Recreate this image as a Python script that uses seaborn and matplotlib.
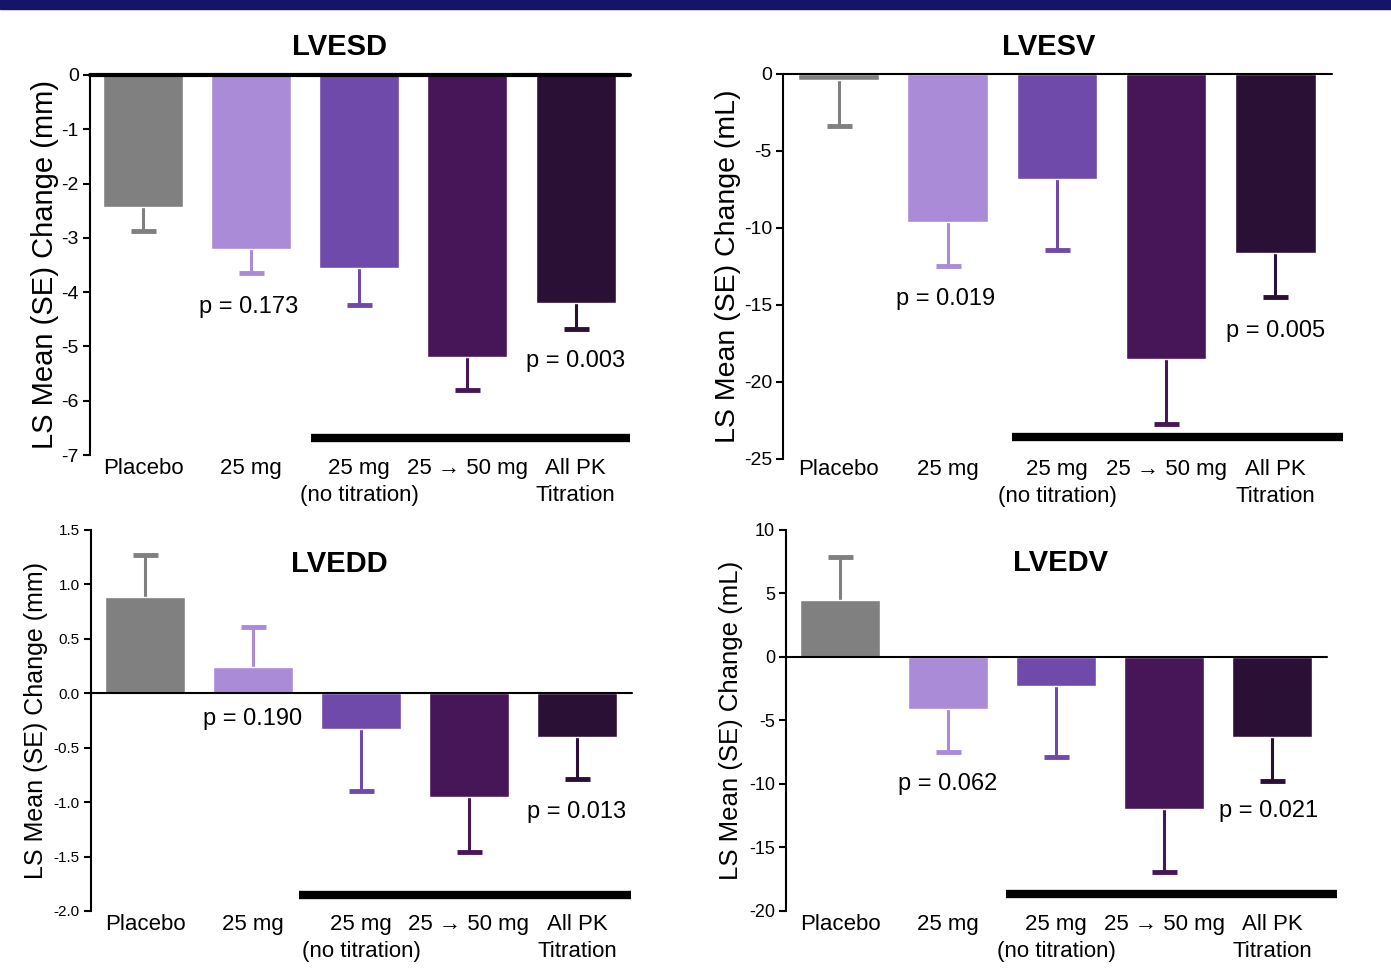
import matplotlib
matplotlib.use("Agg")
import matplotlib.pyplot as plt
import seaborn as sns
from matplotlib.patches import Rectangle

# data
groups = ["Placebo", "25 mg", "25 mg\n(no titration)", "25 \u2192 50 mg", "All PK\nTitration"]
colors = ["#808080", "#a98bd8", "#6f4aab", "#471659", "#2b1035"]

lvesd_mean = [-2.43, -3.20, -3.55, -5.19, -4.20]
lvesd_se = [0.44, 0.45, 0.69, 0.61, 0.48]
lvesd_p = ["p = 0.173", "p = 0.003"]

lvesv_mean = [-0.4, -9.6, -6.8, -18.5, -11.6]
lvesv_se = [3.0, 2.9, 4.6, 4.2, 2.9]
lvesv_p = ["p = 0.019", "p = 0.005"]

lvedd_mean = [0.88, 0.24, -0.33, -0.95, -0.40]
lvedd_se = [0.39, 0.37, 0.57, 0.51, 0.39]
lvedd_p = ["p = 0.190", "p = 0.013"]

lvedv_mean = [4.5, -4.1, -2.3, -12.0, -6.3]
lvedv_se = [3.4, 3.4, 5.6, 4.9, 3.5]
lvedv_p = ["p = 0.062", "p = 0.021"]

sns.set_style("white")
plain = ["Liberation Sans", "DejaVu Sans"]
plt.rcParams["font.family"] = plain
plt.rcParams["text.color"] = "black"
plt.rcParams["xtick.color"] = "black"
plt.rcParams["ytick.color"] = "black"
plt.rcParams["axes.labelcolor"] = "black"

fig = plt.figure(figsize=(13.91, 9.71), dpi=100)
fig.patches.append(Rectangle((0, 0.991), 1, 0.009, transform=fig.transFigure,
                             color="#14146b", zorder=10))

panels = [
    dict(title="LVESD", mean=lvesd_mean, se=lvesd_se, p=lvesd_p,
         rect=[0.0647, 0.5314, 0.388, 0.3914], ylim=(-7, 0), ticks=range(-7, 1),
         fmt="{:g}", xlim=(-0.49, 4.5), ylabel="LS Mean (SE) Change (mm)",
         ylsize=21, lpad=2, tsize=14, xpad=2, title_xy=(1.82, 0.52),
         p_pos=[(0.98, -4.27), (4.0, -5.27)], zlw=3, grp=(1.55, 4.5, -6.68)),
    dict(title="LVESV", mean=lvesv_mean, se=lvesv_se, p=lvesv_p,
         rect=[0.5629, 0.5273, 0.3947, 0.3965], ylim=(-25, 0), ticks=range(-25, 1, 5),
         fmt="{:g}", xlim=(-0.51, 4.52), ylabel="LS Mean (SE) Change (mL)",
         ylsize=20.5, lpad=2, tsize=14, xpad=0, title_xy=(1.92, 1.75),
         p_pos=[(0.98, -14.6), (4.0, -16.7)], zlw=1.5, grp=(1.59, 4.62, -23.6)),
    dict(title="LVEDD", mean=lvedd_mean, se=lvedd_se, p=lvedd_p,
         rect=[0.0654, 0.0618, 0.389, 0.3924], ylim=(-2.0, 1.5),
         ticks=[-2.0, -1.5, -1.0, -0.5, 0.0, 0.5, 1.0, 1.5],
         fmt="{:.1f}", xlim=(-0.5, 4.51), ylabel="LS Mean (SE) Change (mm)",
         ylsize=18, lpad=4, tsize=11, xpad=2, title_xy=(1.8, 1.19),
         p_pos=[(1.0, -0.24), (4.0, -1.09)], zlw=1.5, grp=(1.43, 4.5, -1.85)),
    dict(title="LVEDV", mean=lvedv_mean, se=lvedv_se, p=lvedv_p,
         rect=[0.5651, 0.0618, 0.389, 0.3924], ylim=(-20, 10), ticks=range(-20, 11, 5),
         fmt="{:g}", xlim=(-0.5, 4.51), ylabel="LS Mean (SE) Change (mL)",
         ylsize=18.5, lpad=4, tsize=13, xpad=2, title_xy=(2.04, 7.4),
         p_pos=[(1.0, -10.0), (3.97, -12.1)], zlw=1.5, grp=(1.54, 4.6, -18.66)),
]

for pn in panels:
    ax = fig.add_axes(pn["rect"])
    sns.barplot(x=groups, y=pn["mean"], hue=groups, palette=colors, legend=False,
                ax=ax, width=0.74, errorbar=None, saturation=1, zorder=3)
    for i, (m, s) in enumerate(zip(pn["mean"], pn["se"])):
        err = [[s], [0]] if m < 0 else [[0], [s]]
        _, caps, _ = ax.errorbar(i, m, yerr=err, color=colors[i], lw=2.2, capsize=9,
                                 capthick=3.5, zorder=2)
        # keep only the cap at the far end of the bar
        caps[1 if m < 0 else 0].set_visible(False)
    ax.axhline(0, color="black", lw=pn["zlw"], zorder=4, clip_on=False)
    x0, x1, yb = pn["grp"]
    ax.plot([x0, x1], [yb, yb], color="black", lw=6, solid_capstyle="butt",
            clip_on=False, zorder=5)
    ax.set_xlim(*pn["xlim"])
    ax.set_ylim(*pn["ylim"])
    ax.set_yticks(list(pn["ticks"]))
    ax.set_yticklabels([pn["fmt"].format(t) for t in pn["ticks"]], fontsize=pn["tsize"])
    ax.tick_params(axis="y", direction="out", length=5, width=1.5, pad=3, left=True)
    ax.tick_params(axis="x", length=0, pad=pn["xpad"], labelsize=16)
    for lab in ax.get_xticklabels():
        lab.set_linespacing(1.4)
    for side in ["top", "right", "bottom"]:
        ax.spines[side].set_visible(False)
    ax.spines["left"].set_linewidth(1.5)
    ax.spines["left"].set_color("black")
    ax.set_ylabel(pn["ylabel"], fontsize=pn["ylsize"], labelpad=pn["lpad"])
    tx, ty = pn["title_xy"]
    ax.text(tx, ty, pn["title"], fontsize=21, fontweight="bold",
            ha="center", va="center", clip_on=False)
    for txt, (px, py) in zip(pn["p"], pn["p_pos"]):
        ax.text(px, py, txt, fontsize=17, ha="center", va="center")

fig.savefig("out.png", dpi=100, facecolor="white")
